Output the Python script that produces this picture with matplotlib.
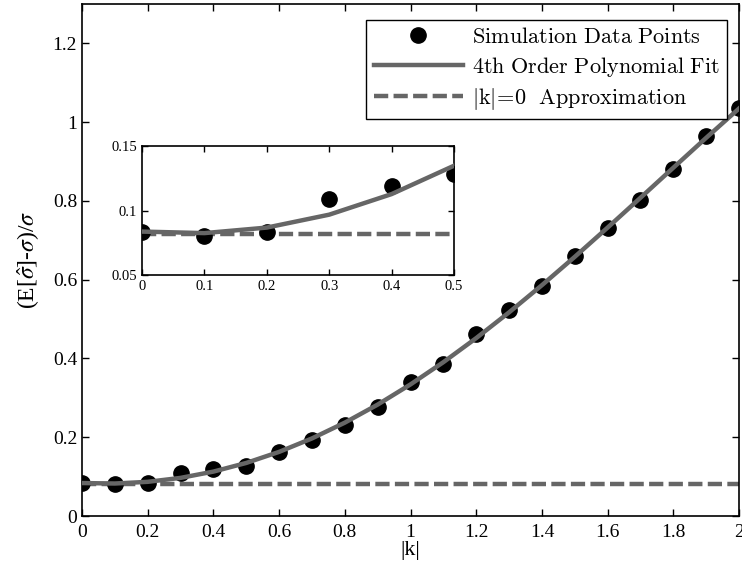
import matplotlib.pyplot as plt
import numpy as np

k = np.round(np.arange(0, 2.01, 0.1), 1)
sim = [0.083, 0.080, 0.083, 0.109, 0.119, 0.128, 0.162, 0.192, 0.232, 0.278,
       0.341, 0.386, 0.462, 0.523, 0.583, 0.659, 0.730, 0.803, 0.881, 0.965, 1.035]
approx0 = 0.082

# 4th order polynomial fit to the simulation points
coef = np.polyfit(k, sim, 4)
fit = np.polyval(coef, k)

plt.rcParams['font.family'] = ['Liberation Serif', 'DejaVu Serif']
gray = '#666666'
dash = (3.2, 1.2)

fig = plt.figure(figsize=(7.42, 5.79), dpi=100)
ax = fig.add_axes([0.1105, 0.1088, 0.8855, 0.8843])
ax.plot(k, sim, 'o', color='black', ms=11, label=r'$\mathrm{Simulation\ Data\ Points}$', zorder=3)
ax.plot(k, fit, '-', color=gray, lw=3.2, label=r'$\mathrm{4th\ Order\ Polynomial\ Fit}$', zorder=4)
ax.plot(k, np.full(len(k), approx0), '--', color=gray, lw=3.2, dashes=dash,
        label=r'$|\mathrm{k}|\!=\!0\ \ \mathrm{Approximation}$', zorder=2)
ax.set_xlim(0, 2)
ax.set_ylim(0, 1.3)
ax.set_xticks(np.arange(0, 2.01, 0.2))
ax.set_xticklabels(['0', '0.2', '0.4', '0.6', '0.8', '1', '1.2', '1.4', '1.6', '1.8', '2'])
ax.set_yticks(np.arange(0, 1.21, 0.2))
ax.set_yticklabels(['0', '0.2', '0.4', '0.6', '0.8', '1', '1.2'])
ax.tick_params(direction='in', top=True, right=True, labelsize=14, length=5, width=1)
ax.tick_params(axis='x', pad=6)
for s in ax.spines.values():
    s.set_linewidth(1.2)
ax.set_xlabel('|k|', fontsize=16, labelpad=0)
ax.set_ylabel(r'(E[$\hat{\sigma}$]-$\sigma$)/$\sigma$', fontsize=17, math_fontfamily='stix', labelpad=8)

leg = ax.legend(loc='upper right', bbox_to_anchor=(0.982, 0.969), fontsize=16, frameon=True,
                fancybox=False, edgecolor='black', framealpha=1, borderpad=0.35,
                handlelength=4.0, labelspacing=0.3, handletextpad=0.4, borderaxespad=0)
leg.get_frame().set_linewidth(1.0)
for t in leg.get_texts():
    t.set_math_fontfamily('cm')

ins = fig.add_axes([0.1914, 0.525, 0.4205, 0.2228])
ins.plot(k, sim, 'o', color='black', ms=11, zorder=3)
ins.plot(k, fit, '-', color=gray, lw=3.2, zorder=4)
ins.plot(k, np.full(len(k), approx0), '--', color=gray, lw=3.2, dashes=dash, zorder=2)
ins.set_xlim(0, 0.5)
ins.set_ylim(0.05, 0.15)
ins.set_xticks([0, 0.1, 0.2, 0.3, 0.4, 0.5])
ins.set_xticklabels(['0', '0.1', '0.2', '0.3', '0.4', '0.5'])
ins.set_yticks([0.05, 0.1, 0.15])
ins.set_yticklabels(['0.05', '0.1', '0.15'])
ins.tick_params(direction='in', top=True, right=True, labelsize=10.5, length=4, width=1)
for s in ins.spines.values():
    s.set_linewidth(1.2)

fig.savefig('out.png', dpi=100)
